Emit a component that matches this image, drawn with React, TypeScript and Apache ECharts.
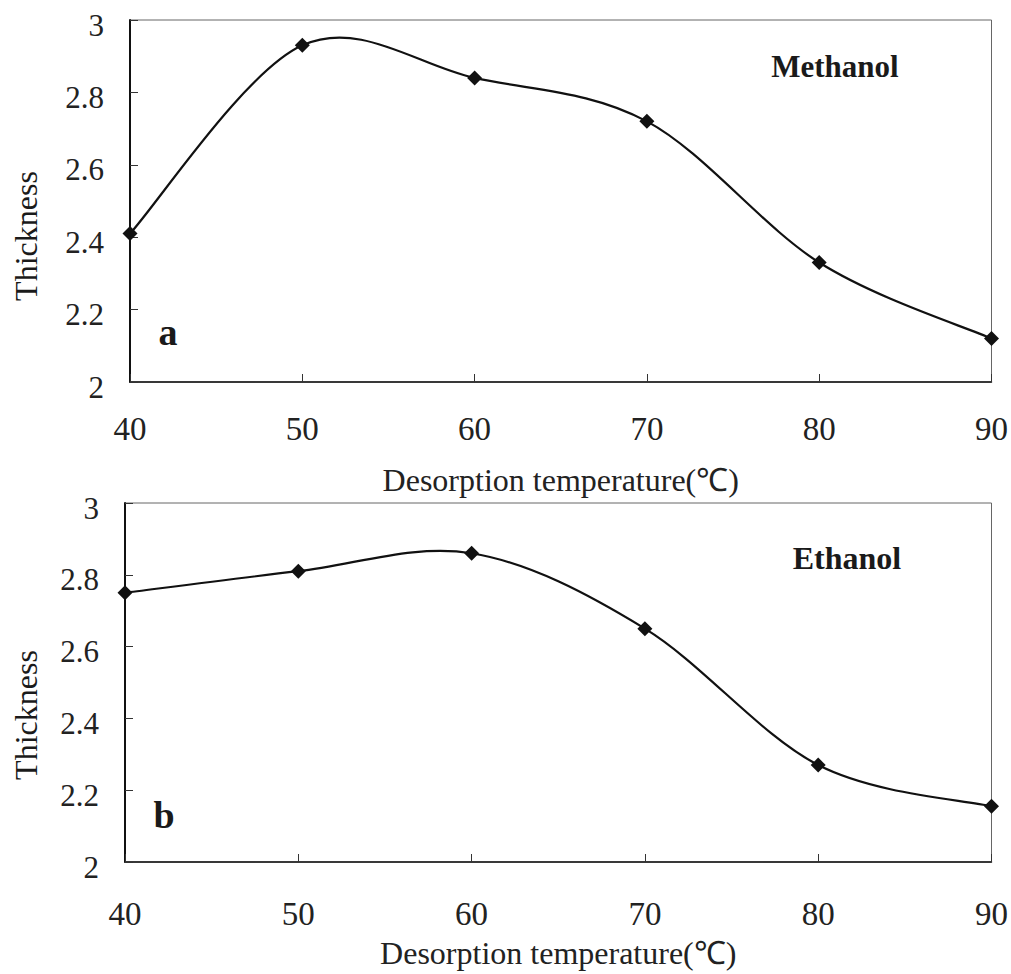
import React, { useEffect, useRef } from "react";
import * as echarts from "echarts";

const temperatures = [40, 50, 60, 70, 80, 90];
const methanolThickness = [2.41, 2.93, 2.84, 2.72, 2.33, 2.12];
const ethanolThickness = [2.75, 2.81, 2.86, 2.65, 2.27, 2.155];
const xTitle = "Desorption temperature(℃)";
const yTitle = "Thickness";

const FONT = "'Liberation Serif', 'Times New Roman', serif";

function pairs(xs: number[], ys: number[]) {
  return xs.map((x, i) => [x, ys[i]]);
}

// Excel-like smoothed curve through the data points, drawn through the axis scales
function curveSeries(idx: number, ys: number[]) {
  return {
    type: "custom",
    xAxisIndex: idx,
    yAxisIndex: idx,
    data: pairs(temperatures, ys),
    encode: { x: 0, y: 1 },
    silent: true,
    z: 2,
    renderItem: (params: any, api: any) => {
      if (params.dataIndex !== 0) return null;
      const pts = ys.map((y, i) => api.coord([temperatures[i], y]));
      const n = pts.length;
      const P = (i: number) => pts[Math.max(0, Math.min(n - 1, i))];
      let d = `M${pts[0][0]},${pts[0][1]}`;
      for (let i = 0; i < n - 1; i++) {
        const p0 = P(i - 1), p1 = P(i), p2 = P(i + 1), p3 = P(i + 2);
        const c1x = p1[0] + (p2[0] - p0[0]) / 6;
        const c1y = p1[1] + (p2[1] - p0[1]) / 6;
        const c2x = p2[0] - (p3[0] - p1[0]) / 6;
        const c2y = p2[1] - (p3[1] - p1[1]) / 6;
        d += ` C${c1x},${c1y} ${c2x},${c2y} ${p2[0]},${p2[1]}`;
      }
      return {
        type: "path",
        shape: { pathData: d },
        style: { fill: "none", stroke: "#111", lineWidth: 2.2 },
      };
    },
  };
}

export default function App() {
  const ref = useRef<HTMLDivElement>(null);
  useEffect(() => {
    if (!ref.current) return;
    const chart = echarts.init(ref.current, undefined, { renderer: "svg" });

    const xAxisBase = (gridIndex: number, labelMargin: number, nameGap: number) => ({
      type: "value",
      gridIndex,
      min: 40,
      max: 90,
      interval: 10,
      axisLine: { show: true, lineStyle: { color: "#111", width: 1.5 } },
      axisTick: { show: true, inside: true, length: 8, lineStyle: { color: "#333", width: 1 } },
      axisLabel: { fontSize: 33, fontFamily: FONT, color: "#222", margin: labelMargin },
      splitLine: { show: false },
      name: xTitle,
      nameLocation: "middle",
      nameGap,
      nameTextStyle: { fontSize: 32, fontFamily: FONT, color: "#222" },
    });

    const yAxisBase = (gridIndex: number) => ({
      type: "value",
      gridIndex,
      min: 2,
      max: 3,
      interval: 0.2,
      axisLine: { show: true, lineStyle: { color: "#111", width: 2 } },
      axisTick: { show: true, inside: true, length: 8, lineStyle: { color: "#333", width: 1 } },
      axisLabel: {
        fontSize: 31,
        fontFamily: FONT,
        color: "#222",
        margin: 26,
        formatter: (v: number) => `{v|${parseFloat(v.toFixed(1))}}`,
        rich: {
          v: { fontSize: 31, fontFamily: FONT, color: "#222", padding: [10, 0, 0, 0] },
        },
      },
      splitLine: { show: false },
    });

    const markerSeries = (idx: number, ys: number[], name: string) => ({
      type: "scatter",
      name,
      xAxisIndex: idx,
      yAxisIndex: idx,
      data: pairs(temperatures, ys),
      symbol: "diamond",
      symbolSize: 15,
      itemStyle: { color: "#111", opacity: 1 },
      z: 3,
    });

    const textEl = (text: string, x: number, y: number, size: number, rotate = 0) => ({
      type: "text",
      x,
      y,
      rotation: rotate,
      style: {
        text,
        fontSize: size,
        fontFamily: FONT,
        fontWeight: rotate ? "normal" : "bold",
        fill: "#1a1a1a",
        align: "center",
        verticalAlign: "middle",
      },
    });

    chart.setOption({
      animation: false,
      backgroundColor: "#fff",
      grid: [
        { left: 130, top: 20, width: 863, height: 362, show: true, borderColor: "#666", borderWidth: 1 },
        { left: 125, top: 503, width: 868, height: 359, show: true, borderColor: "#666", borderWidth: 1 },
      ],
      xAxis: [xAxisBase(0, 30, 82), xAxisBase(1, 35, 75)],
      yAxis: [yAxisBase(0), yAxisBase(1)],
      series: [
        curveSeries(0, methanolThickness),
        markerSeries(0, methanolThickness, "Methanol"),
        curveSeries(1, ethanolThickness),
        markerSeries(1, ethanolThickness, "Ethanol"),
      ],
      graphic: [
        textEl("Methanol", 835, 66, 31),
        textEl("a", 168, 332, 38),
        textEl("Ethanol", 847, 558, 32),
        textEl("b", 164, 815, 38),
        textEl(yTitle, 26, 236, 32, Math.PI / 2),
        textEl(yTitle, 26, 715, 32, Math.PI / 2),
      ],
    });
    return () => chart.dispose();
  }, []);
  return (
    <div
      ref={ref}
      style={{ position: "fixed", left: 0, top: 0, width: 1011, height: 974, background: "#fff" }}
    />
  );
}
